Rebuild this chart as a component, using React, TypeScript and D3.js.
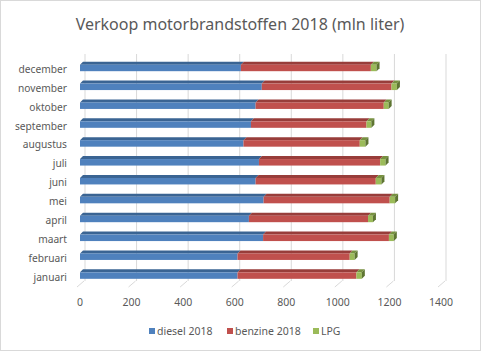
import React, { useEffect, useRef } from 'react';
import * as d3 from 'd3';

const months = ['januari', 'februari', 'maart', 'april', 'mei', 'juni', 'juli', 'augustus', 'september', 'oktober', 'november', 'december'];
const diesel = [611, 611, 710, 655, 712, 681, 694, 634, 663, 681, 705, 624];
const benzine = [461, 435, 488, 462, 489, 466, 470, 451, 448, 497, 503, 504];
const lpg = [21, 19, 19, 19, 21, 22, 21, 22, 19, 19, 21, 22];
const seriesNames = ['diesel 2018', 'benzine 2018', 'LPG'];
const xTicks = [0, 200, 400, 600, 800, 1000, 1200, 1400];

const front = ['#4F81BD', '#C0504D', '#9BBB59'];
const top = ['#3A6493', '#983D3A', '#77913F'];
const side = ['#2F5279', '#7E312F', '#5E7532'];

const App: React.FC = () => {
  const ref = useRef<SVGSVGElement | null>(null);

  useEffect(() => {
    if (!ref.current) return;
    const width = 481;
    const height = 351;
    const svg = d3.select(ref.current);
    svg.selectAll('*').remove();
    svg.attr('viewBox', `0 0 ${width} ${height}`);
    const font = '"Noto Sans", sans-serif';

    svg.append('rect')
      .attr('x', 0.5).attr('y', 0.5)
      .attr('width', width - 1).attr('height', height - 1)
      .attr('fill', '#fff').attr('stroke', '#d9d9d9');

    svg.append('text')
      .attr('x', 240).attr('y', 30)
      .attr('text-anchor', 'middle')
      .attr('font-family', font).attr('font-size', 16)
      .attr('fill', '#595959')
      .text('Verkoop motorbrandstoffen 2018 (mln liter)');

    // depth offset of the 3D walls / bars
    const dx = 5;
    const bdx = 3;
    const bdy = 3;
    const x = d3.scaleLinear().domain([0, 1400]).range([80, 441]);
    const y = d3.scaleBand<string>()
      .domain([...months].reverse())
      .range([60, 286.5])
      .paddingInner(0);

    const gridTop = 54;
    const gridBottom = 281;
    // back wall gridlines
    svg.append('g').selectAll('line')
      .data(xTicks)
      .join('line')
      .attr('x1', d => x(d) + dx).attr('x2', d => x(d) + dx)
      .attr('y1', gridTop).attr('y2', gridBottom)
      .attr('stroke', '#d9d9d9').attr('stroke-width', 1);
    // floor lines
    svg.append('g').selectAll('line')
      .data(xTicks)
      .join('line')
      .attr('x1', d => x(d) + dx - 1).attr('x2', d => x(d) - 3)
      .attr('y1', gridBottom).attr('y2', gridBottom + 6)
      .attr('stroke', '#d9d9d9').attr('stroke-width', 1);

    // x tick labels
    svg.append('g').selectAll('text')
      .data(xTicks)
      .join('text')
      .attr('x', d => x(d)).attr('y', 306)
      .attr('text-anchor', 'middle')
      .attr('font-family', font).attr('font-size', 10.5)
      .attr('fill', '#595959')
      .text(d => String(d));

    // month labels
    svg.append('g').selectAll('text')
      .data(months)
      .join('text')
      .attr('x', 67)
      .attr('y', d => y(d)! + y.bandwidth() / 2 + 3.5)
      .attr('text-anchor', 'end')
      .attr('font-family', font).attr('font-size', 10.2)
      .attr('fill', '#595959')
      .text(d => d);

    const rows = months.map((m, i) => ({ month: m, diesel: diesel[i], benzine: benzine[i], lpg: lpg[i] }));
    const stacked = d3.stack<any>().keys(['diesel', 'benzine', 'lpg'])(rows);

    const barH = 6.5;
    const bars = svg.append('g');
    months.forEach((m, i) => {
      const cy = y(m)! + y.bandwidth() / 2 - 1.5;
      const y0 = cy - barH / 2;
      const y1 = cy + barH / 2;
      stacked.forEach((s, k) => {
        const a = x(s[i][0]);
        const b = x(s[i][1]);
        // top face
        bars.append('path')
          .attr('d', `M${a},${y0}L${a + bdx},${y0 - bdy}L${b + bdx},${y0 - bdy}L${b},${y0}Z`)
          .attr('fill', top[k]);
        bars.append('rect')
          .attr('x', a).attr('y', y0)
          .attr('width', b - a).attr('height', barH)
          .attr('fill', front[k]);
        if (k === stacked.length - 1) {
          bars.append('path')
            .attr('d', `M${b},${y0}L${b + bdx},${y0 - bdy}L${b + bdx},${y1 - bdy}L${b},${y1}Z`)
            .attr('fill', side[k]);
        }
      });
    });

    // legend
    const legendX = [149, 227, 313];
    const legend = svg.append('g');
    seriesNames.forEach((n, k) => {
      legend.append('rect')
        .attr('x', legendX[k]).attr('y', 328)
        .attr('width', 6).attr('height', 6)
        .attr('fill', front[k]);
      legend.append('text')
        .attr('x', legendX[k] + 8).attr('y', 335)
        .attr('font-family', font).attr('font-size', 10.5)
        .attr('fill', '#595959')
        .text(n);
    });
  }, []);

  return (
    <svg
      ref={ref}
      width={481}
      height={351}
      style={{ position: 'absolute', left: 0, top: 0, display: 'block' }}
    />
  );
};

export default App;
